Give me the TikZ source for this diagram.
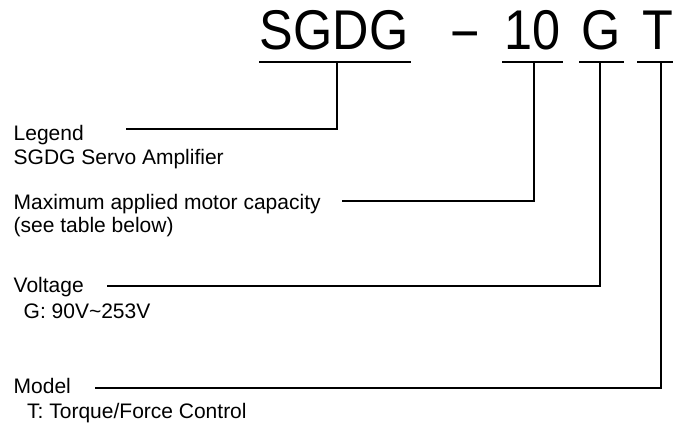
\documentclass[tikz,border=0pt]{standalone}
\usepackage{fontspec}
\setmainfont{Liberation Sans}
\begin{document}
\begin{tikzpicture}[x=1pt,y=-1pt,
  lbl/.style={anchor=base west,inner sep=0pt,font=\fontsize{21}{24}\selectfont},
  code/.style={anchor=base,inner sep=0pt,xscale=0.9,transform shape,font=\fontsize{56}{60}\selectfont},
  wire/.style={line width=2pt,line cap=butt,line join=miter}]
\useasboundingbox (0,0) rectangle (673,425);
% title parts
\node[code] (sgdg) at (334,50) {SGDG};
\node[code] (dash) at (465,53) {−};
\node[code] (ten) at (533,50) {10};
\node[code] (g) at (601,50) {G};
\node[code] (t) at (658,50) {T};
% underlines
\coordinate (u1l) at (259,62); \coordinate (u1r) at (411,62); \coordinate (u1m) at (337,62);
\coordinate (u2l) at (502,62); \coordinate (u2r) at (563,62); \coordinate (u2m) at (534,62);
\coordinate (u3l) at (579,62); \coordinate (u3r) at (624,62); \coordinate (u3m) at (600,62);
\coordinate (u4l) at (637,62); \coordinate (u4r) at (673,62); \coordinate (u4m) at (661,62);
\draw[wire] (u1l) -- (u1r);
\draw[wire] (u2l) -- (u2r);
\draw[wire] (u3l) -- (u3r);
\draw[wire] (u4l) -- (u4r);
% labels
\node[lbl] (legend) at (13.5,141) {Legend};
\node[lbl] (legend2) at (13.5,165) {SGDG Servo Amplifier};
\node[lbl] (maxcap) at (13.5,210) {Maximum applied motor capacity};
\node[lbl] (maxcap2) at (13.5,233) {(see table below)};
\node[lbl] (volt) at (13.5,292) {Voltage};
\node[lbl] (volt2) at (23.5,319) {G: 90V\char"007E 253V};
\node[lbl] (model) at (13.5,393) {Model};
\node[lbl] (model2) at (27,418) {T: Torque/Force Control};
% connector start points
\coordinate (c1) at (126,129);
\coordinate (c2) at (342,201);
\coordinate (c3) at (107,286);
\coordinate (c4) at (95,388);
\draw[wire] (c1) -- (u1m |- c1) -- (u1m);
\draw[wire] (c2) -- (u2m |- c2) -- (u2m);
\draw[wire] (c3) -- (u3m |- c3) -- (u3m);
\draw[wire] (c4) -- (u4m |- c4) -- (u4m);
\end{tikzpicture}
\end{document}
